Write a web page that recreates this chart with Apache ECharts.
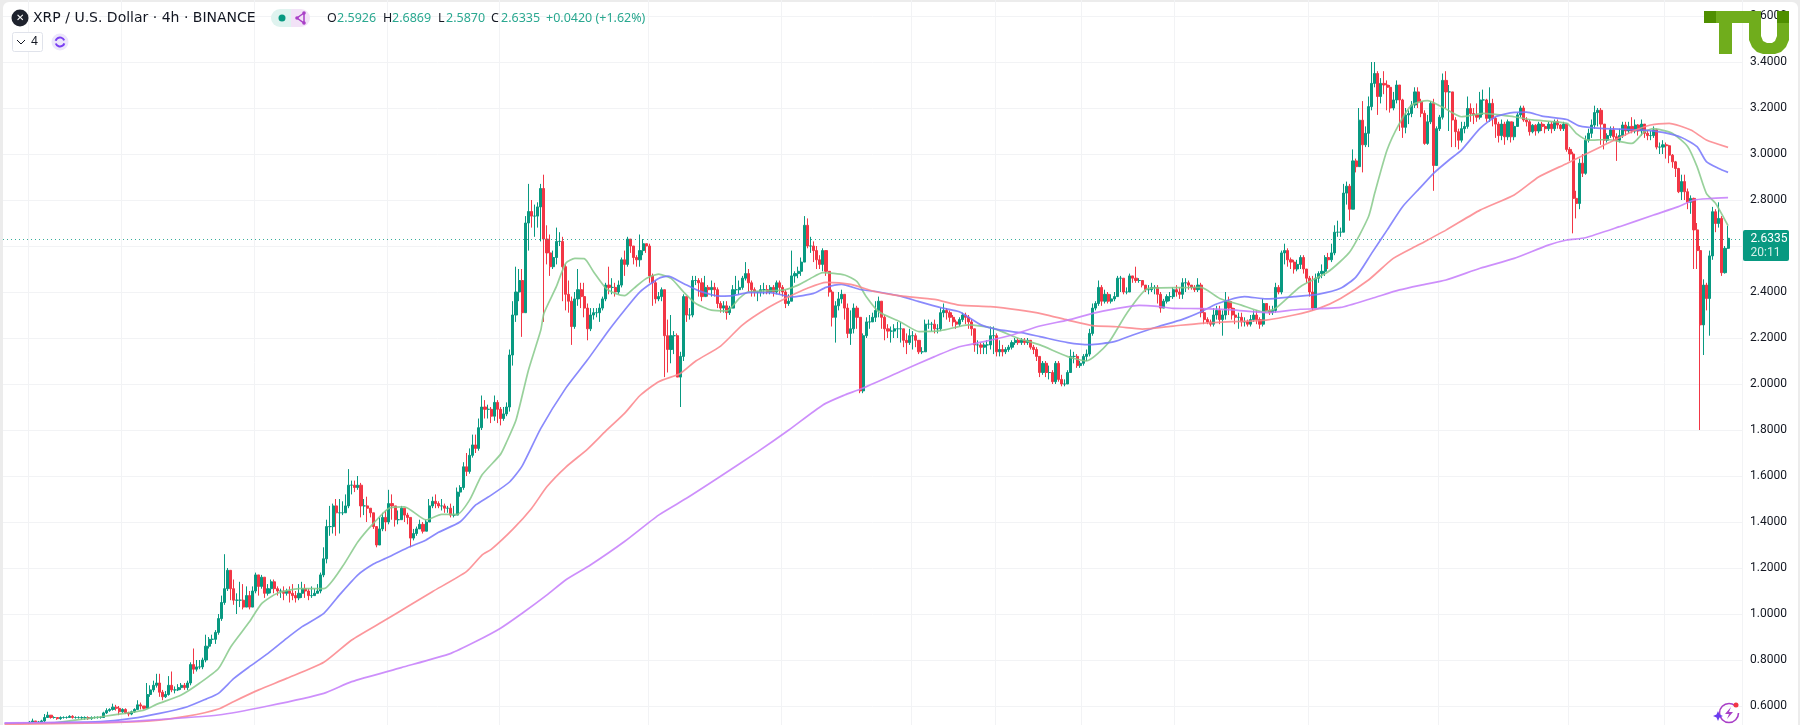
<!DOCTYPE html>
<html>
<head>
<meta charset="utf-8">
<title>XRP / U.S. Dollar</title>
<script src="https://cdn.jsdelivr.net/npm/echarts@6/dist/echarts.min.js"></script>
<style>
html, body { margin: 0; padding: 0; background: #ececec; overflow: hidden; }
#panel { position: absolute; left: 3px; top: 2px; width: 1795px; height: 723px; background: #fff; border-radius: 6px 6px 0 0; }
#chart { position: absolute; left: 0; top: 0; width: 1800px; height: 725px; }
</style>
</head>
<body>
<div id="panel"></div>
<div id="chart"></div>
<script>
// bars before the first candle, only the averages run there
var firstBar = 8;
var barCount = 561;
var monthBars = [8, 38, 81, 124, 160, 208, 251, 293, 320, 348, 378, 421, 463, 505, 536];

var firstOpen = 0.525;
var closes = [
	.53,.535,.53,.53,.535,.55,.56,.55,.55,.545,
	.55,.55,.55,.555,.55,.55,.55,.55,.55,.545,
	.55,.55,.55,.55,.57,.58,.585,.595,.59,.575,
	.585,.57,.565,.575,.585,.605,.60,.59,.65,.67,
	.69,.70,.66,.64,.65,.69,.67,.67,.68,.69,
	.68,.70,.78,.76,.77,.77,.80,.86,.89,.89,
	.92,.98,1.05,1.11,1.19,1.11,1.06,1.06,1.06,1.03,
	1.08,1.03,1.10,1.17,1.12,1.16,1.09,1.11,1.14,1.11,
	1.10,1.10,1.09,1.10,1.09,1.08,1.07,1.09,1.11,1.10,
	1.08,1.08,1.09,1.10,1.17,1.24,1.38,1.38,1.47,1.44,
	1.44,1.44,1.47,1.56,1.56,1.55,1.56,1.47,1.47,1.46,
	1.44,1.38,1.30,1.37,1.42,1.40,1.48,1.47,1.41,1.41,
	1.46,1.43,1.42,1.33,1.35,1.37,1.39,1.36,1.40,1.47,
	1.49,1.48,1.47,1.47,1.46,1.46,1.43,1.43,1.53,1.55,
	1.64,1.62,1.69,1.735,1.72,1.81,1.90,1.89,1.89,1.86,
	1.92,1.89,1.85,1.87,1.90,2.126,2.30,2.40,2.45,2.31,
	2.70,2.75,2.73,2.73,2.77,2.85,2.63,2.57,2.51,2.55,
	2.62,2.62,2.51,2.39,2.36,2.25,2.37,2.41,2.38,2.33,
	2.24,2.30,2.31,2.31,2.33,2.37,2.43,2.42,2.42,2.40,
	2.43,2.54,2.52,2.63,2.60,2.55,2.54,2.58,2.61,2.60,
	2.47,2.44,2.37,2.38,2.41,2.21,2.15,2.21,2.21,2.03,
	2.12,2.38,2.30,2.30,2.45,2.45,2.44,2.38,2.42,2.41,
	2.42,2.41,2.35,2.33,2.34,2.31,2.33,2.41,2.41,2.42,
	2.46,2.48,2.44,2.41,2.40,2.40,2.41,2.41,2.40,2.42,
	2.40,2.44,2.42,2.40,2.35,2.36,2.47,2.48,2.49,2.53,
	2.69,2.60,2.60,2.58,2.54,2.52,2.58,2.49,2.40,2.29,
	2.34,2.37,2.39,2.33,2.22,2.24,2.33,2.29,1.97,2.21,
	2.27,2.27,2.29,2.32,2.36,2.29,2.24,2.23,2.23,2.24,
	2.24,2.24,2.19,2.18,2.21,2.21,2.19,2.14,2.14,2.26,
	2.26,2.26,2.24,2.24,2.31,2.32,2.31,2.29,2.27,2.26,
	2.28,2.30,2.29,2.27,2.24,2.17,2.17,2.16,2.17,2.17,
	2.21,2.21,2.14,2.15,2.14,2.15,2.16,2.18,2.19,2.18,
	2.19,2.18,2.19,2.16,2.15,2.12,2.05,2.09,2.05,2.05,
	2.01,2.09,2.02,2.00,2.00,2.05,2.12,2.12,2.08,2.09,
	2.12,2.13,2.22,2.33,2.35,2.42,2.36,2.39,2.36,2.37,
	2.38,2.46,2.46,2.40,2.40,2.47,2.46,2.45,2.45,2.43,
	2.41,2.41,2.42,2.42,2.39,2.33,2.36,2.38,2.38,2.41,
	2.40,2.39,2.44,2.44,2.43,2.42,2.41,2.43,2.31,2.28,
	2.27,2.26,2.30,2.32,2.28,2.30,2.36,2.33,2.30,2.29,
	2.29,2.27,2.27,2.26,2.28,2.30,2.28,2.26,2.35,2.32,
	2.31,2.32,2.42,2.40,2.57,2.58,2.54,2.53,2.50,2.52,
	2.55,2.50,2.46,2.40,2.33,2.46,2.48,2.49,2.55,2.54,
	2.57,2.66,2.66,2.66,2.83,2.86,2.76,2.97,2.945,3.147,
	3.04,3.09,3.206,3.307,3.35,3.25,3.307,3.30,3.29,3.20,
	3.235,3.30,3.235,3.116,3.17,3.176,3.213,3.27,3.227,3.177,
	3.046,3.14,3.22,2.95,3.11,3.16,3.32,3.27,3.27,3.148,
	3.097,3.06,3.11,3.12,3.198,3.176,3.17,3.16,3.235,3.235,
	3.155,3.22,3.155,3.13,3.08,3.13,3.075,3.14,3.075,3.12,
	3.17,3.20,3.148,3.14,3.097,3.125,3.10,3.13,3.12,3.11,
	3.13,3.11,3.14,3.126,3.11,3.13,3.02,3.00,2.807,2.785,
	2.96,2.916,3.06,3.09,3.126,3.18,3.19,3.13,3.06,3.08,
	3.105,3.075,3.06,3.08,3.126,3.10,3.12,3.10,3.126,3.10,
	3.13,3.09,3.08,3.08,3.105,3.03,3.03,3.04,3.036,2.995,
	2.966,2.937,2.836,2.88,2.836,2.79,2.807,2.67,2.58,2.257,
	2.43,2.372,2.557,2.749,2.698,2.72,2.484,2.59,2.6335
];
var highs = [
	.535,.545,.535,.535,.54,.565,.575,.56,.555,.55,
	.555,.555,.555,.56,.56,.555,.555,.555,.555,.555,
	.555,.555,.555,.555,.575,.59,.59,.61,.605,.60,
	.59,.59,.575,.58,.59,.625,.615,.60,.70,.69,
	.71,.74,.74,.67,.665,.73,.75,.685,.695,.70,
	.70,.71,.79,.85,.80,.80,.81,.91,.90,.91,
	.93,1.0,1.08,1.26,1.20,1.19,1.15,1.09,1.14,1.13,
	1.12,1.10,1.12,1.18,1.17,1.17,1.16,1.13,1.15,1.15,
	1.12,1.11,1.12,1.11,1.12,1.13,1.10,1.13,1.14,1.13,
	1.11,1.12,1.11,1.13,1.18,1.29,1.41,1.47,1.48,1.50,
	1.50,1.49,1.52,1.63,1.58,1.58,1.60,1.57,1.50,1.51,
	1.46,1.44,1.38,1.42,1.44,1.45,1.54,1.52,1.47,1.45,
	1.47,1.46,1.44,1.42,1.37,1.38,1.41,1.40,1.41,1.50,
	1.51,1.52,1.49,1.50,1.48,1.47,1.48,1.47,1.55,1.56,
	1.66,1.70,1.72,1.78,1.78,1.85,1.95,1.93,1.91,1.90,
	1.95,1.93,1.90,1.90,1.92,2.15,2.36,2.51,2.50,2.50,
	2.73,2.87,2.80,2.78,2.79,2.87,2.91,2.69,2.65,2.58,
	2.68,2.66,2.64,2.52,2.45,2.38,2.40,2.50,2.44,2.44,
	2.35,2.33,2.33,2.33,2.35,2.38,2.44,2.51,2.46,2.44,
	2.45,2.55,2.58,2.64,2.63,2.60,2.56,2.65,2.63,2.61,
	2.61,2.48,2.45,2.40,2.42,2.41,2.28,2.30,2.23,2.22,
	2.14,2.39,2.38,2.33,2.47,2.47,2.46,2.46,2.47,2.43,
	2.45,2.44,2.42,2.36,2.36,2.36,2.34,2.43,2.47,2.45,
	2.47,2.53,2.50,2.45,2.42,2.40,2.43,2.44,2.43,2.43,
	2.43,2.45,2.45,2.43,2.41,2.39,2.58,2.49,2.51,2.55,
	2.73,2.72,2.64,2.62,2.60,2.56,2.59,2.58,2.49,2.41,
	2.36,2.40,2.41,2.39,2.35,2.32,2.35,2.34,2.29,2.22,
	2.29,2.30,2.31,2.36,2.38,2.36,2.30,2.26,2.25,2.26,
	2.27,2.27,2.24,2.22,2.24,2.23,2.22,2.19,2.16,2.28,
	2.28,2.27,2.28,2.26,2.33,2.35,2.33,2.32,2.30,2.28,
	2.29,2.31,2.31,2.30,2.28,2.24,2.19,2.18,2.18,2.19,
	2.25,2.25,2.22,2.19,2.17,2.16,2.17,2.19,2.20,2.20,
	2.20,2.20,2.20,2.19,2.17,2.16,2.12,2.10,2.10,2.08,
	2.06,2.10,2.10,2.04,2.02,2.06,2.15,2.14,2.13,2.10,
	2.13,2.15,2.24,2.35,2.36,2.45,2.43,2.41,2.40,2.39,
	2.40,2.47,2.47,2.46,2.42,2.48,2.47,2.51,2.46,2.45,
	2.43,2.43,2.44,2.43,2.43,2.40,2.37,2.39,2.40,2.42,
	2.43,2.42,2.46,2.46,2.45,2.43,2.43,2.46,2.44,2.33,
	2.29,2.28,2.33,2.34,2.34,2.32,2.40,2.38,2.36,2.33,
	2.31,2.31,2.29,2.28,2.30,2.32,2.32,2.29,2.37,2.35,
	2.34,2.34,2.44,2.43,2.58,2.61,2.59,2.55,2.54,2.54,
	2.56,2.56,2.50,2.47,2.47,2.48,2.49,2.52,2.56,2.57,
	2.61,2.69,2.71,2.68,2.87,2.88,2.87,3.02,2.98,3.20,
	3.23,3.12,3.25,3.40,3.40,3.36,3.33,3.36,3.32,3.30,
	3.27,3.32,3.30,3.24,3.20,3.19,3.23,3.29,3.29,3.24,
	3.19,3.17,3.23,3.24,3.12,3.17,3.35,3.36,3.30,3.27,
	3.16,3.11,3.14,3.14,3.25,3.22,3.20,3.22,3.27,3.28,
	3.24,3.29,3.24,3.16,3.14,3.15,3.14,3.15,3.14,3.14,
	3.18,3.21,3.21,3.16,3.15,3.13,3.13,3.14,3.14,3.13,
	3.14,3.14,3.15,3.15,3.13,3.14,3.13,3.03,3.01,2.84,
	2.98,3.00,3.08,3.11,3.15,3.21,3.20,3.20,3.13,3.09,
	3.12,3.12,3.09,3.11,3.14,3.14,3.14,3.16,3.15,3.13,
	3.15,3.13,3.10,3.10,3.12,3.11,3.05,3.06,3.05,3.04,
	3.0,2.97,2.94,2.91,2.91,2.85,2.82,2.81,2.70,2.60,
	2.455,2.44,2.58,2.77,2.76,2.79,2.73,2.60,2.6869
];
var lows = [
	.525,.525,.525,.525,.53,.53,.55,.545,.545,.54,
	.54,.545,.545,.55,.545,.545,.545,.54,.54,.54,
	.54,.545,.545,.545,.55,.565,.575,.58,.58,.56,
	.57,.565,.555,.56,.57,.585,.585,.585,.59,.64,
	.66,.68,.64,.625,.635,.645,.66,.655,.665,.67,
	.67,.67,.69,.74,.75,.76,.76,.79,.85,.87,
	.87,.91,.97,1.04,1.10,1.06,1.04,1.00,1.03,1.02,
	1.03,1.02,1.03,1.09,1.08,1.11,1.07,1.08,1.09,1.09,
	1.08,1.07,1.06,1.08,1.05,1.06,1.05,1.06,1.07,1.07,
	1.06,1.07,1.08,1.09,1.09,1.16,1.22,1.34,1.35,1.34,
	1.35,1.43,1.45,1.46,1.52,1.53,1.54,1.42,1.43,1.40,
	1.42,1.37,1.29,1.30,1.36,1.36,1.39,1.41,1.38,1.39,
	1.41,1.40,1.39,1.29,1.32,1.34,1.37,1.35,1.36,1.40,
	1.46,1.46,1.46,1.45,1.44,1.44,1.42,1.42,1.43,1.51,
	1.54,1.60,1.61,1.68,1.70,1.71,1.80,1.85,1.85,1.83,
	1.84,1.83,1.82,1.84,1.86,1.88,2.08,2.27,2.36,2.205,
	2.31,2.58,2.68,2.64,2.68,2.62,2.27,2.52,2.47,2.50,
	2.52,2.60,2.36,2.32,2.31,2.17,2.24,2.34,2.33,2.29,
	2.19,2.23,2.28,2.29,2.27,2.32,2.36,2.39,2.39,2.38,
	2.39,2.42,2.47,2.51,2.57,2.52,2.51,2.51,2.56,2.57,
	2.44,2.34,2.35,2.36,2.36,2.03,2.05,2.09,2.13,2.03,
	1.90,2.10,2.27,2.28,2.29,2.43,2.38,2.36,2.38,2.38,
	2.38,2.38,2.33,2.31,2.31,2.28,2.30,2.33,2.39,2.39,
	2.41,2.45,2.40,2.38,2.38,2.36,2.38,2.39,2.39,2.39,
	2.38,2.39,2.39,2.38,2.33,2.34,2.36,2.44,2.46,2.47,
	2.53,2.59,2.57,2.53,2.50,2.50,2.49,2.47,2.38,2.25,
	2.18,2.32,2.35,2.28,2.20,2.17,2.22,2.24,1.96,1.96,
	2.20,2.24,2.27,2.27,2.29,2.24,2.19,2.20,2.18,2.20,
	2.20,2.18,2.16,2.13,2.17,2.15,2.16,2.13,2.13,2.14,
	2.24,2.23,2.22,2.22,2.23,2.29,2.28,2.27,2.25,2.24,
	2.25,2.27,2.26,2.24,2.21,2.14,2.13,2.13,2.13,2.13,
	2.15,2.13,2.12,2.12,2.12,2.13,2.14,2.15,2.17,2.17,
	2.17,2.17,2.17,2.15,2.13,2.10,2.03,2.04,2.03,2.02,
	2.00,2.00,2.01,1.99,1.99,2.00,2.05,2.09,2.07,2.07,
	2.08,2.10,2.12,2.21,2.32,2.34,2.34,2.35,2.35,2.35,
	2.36,2.38,2.40,2.39,2.39,2.40,2.44,2.44,2.44,2.42,
	2.40,2.39,2.40,2.39,2.35,2.31,2.33,2.35,2.36,2.37,
	2.38,2.37,2.37,2.40,2.41,2.41,2.40,2.40,2.29,2.26,
	2.26,2.25,2.25,2.28,2.26,2.21,2.28,2.30,2.28,2.26,
	2.24,2.25,2.25,2.25,2.25,2.27,2.26,2.24,2.25,2.31,
	2.30,2.30,2.31,2.39,2.39,2.52,2.51,2.50,2.48,2.49,
	2.50,2.48,2.44,2.38,2.32,2.33,2.44,2.46,2.47,2.50,
	2.53,2.56,2.64,2.64,2.66,2.78,2.71,2.76,2.92,2.945,
	2.92,3.03,3.03,3.19,3.29,3.17,3.22,3.26,3.19,3.18,
	3.19,3.22,3.10,3.07,3.09,3.13,3.16,3.20,3.20,3.16,
	3.04,3.04,3.13,2.84,2.95,3.10,3.15,3.20,3.10,3.03,
	3.03,3.02,3.05,3.09,3.11,3.14,3.13,3.14,3.15,3.17,
	3.14,3.14,3.12,3.07,3.05,3.06,3.04,3.06,3.05,3.06,
	3.12,3.16,3.14,3.12,3.08,3.09,3.08,3.09,3.10,3.09,
	3.10,3.09,3.10,3.11,3.10,3.10,3.01,2.97,2.655,2.72,
	2.76,2.90,2.91,3.05,3.07,3.11,3.12,3.04,3.02,3.05,
	3.07,3.06,2.97,3.05,3.07,3.08,3.09,3.09,3.09,3.08,
	3.08,3.07,3.06,3.06,3.07,3.02,3.00,3.00,2.98,2.96,
	2.94,2.90,2.83,2.80,2.80,2.76,2.74,2.50,2.50,1.80,
	2.126,2.32,2.21,2.54,2.66,2.68,2.47,2.48,2.587
];

// moving averages as [bar, price] read at the bends of each line
var maGreen = [[15,.525],[31,.553],[45,.582],[49,.607],[57,.648],[63,.70],[69,.763],[73,.858],[79,.966],[83,1.046],[88,1.09],[95,1.11],[103,1.11],[109,1.206],[114,1.314],[119,1.394],[124,1.46],[129,1.466],[136,1.409],[141,1.433],[146,1.433],[150,1.495],[154,1.604],[160,1.694],[162,1.749],[165,1.843],[169,2.06],[173,2.235],[174,2.307],[178,2.423],[181,2.524],[184,2.546],[187,2.545],[190,2.488],[194,2.416],[197,2.394],[200,2.384],[203,2.416],[207,2.459],[211,2.478],[215,2.459],[219,2.401],[223,2.35],[228,2.321],[233,2.318],[237,2.372],[240,2.401],[251,2.408],[256,2.43],[260,2.459],[264,2.484],[271,2.474],[275,2.445],[278,2.379],[282,2.314],[289,2.27],[295,2.228],[302,2.232],[311,2.257],[319,2.242],[327,2.199],[334,2.17],[343,2.119],[349,2.10],[356,2.177],[362,2.307],[369,2.416],[380,2.419],[386,2.42],[392,2.372],[399,2.343],[406,2.314],[410,2.329],[418,2.423],[427,2.488],[434,2.575],[440,2.727],[442,2.829],[446,3.017],[450,3.133],[454,3.213],[459,3.232],[464,3.203],[470,3.162],[477,3.177],[487,3.162],[493,3.148],[504,3.133],[507,3.09],[511,3.06],[517,3.063],[525,3.046],[529,3.097],[532,3.11],[538,3.09],[543,3.032],[546,2.945],[549,2.829],[552,2.785],[556,2.688]];
var maBlue = [[0,.524],[31,.532],[41,.546],[50,.568],[59,.597],[65,.63],[69,.655],[74,.72],[79,.771],[85,.829],[91,.894],[96,.945],[103,1.003],[108,1.082],[114,1.17],[119,1.217],[123,1.242],[130,1.288],[136,1.322],[140,1.355],[147,1.401],[152,1.474],[157,1.517],[163,1.575],[167,1.644],[173,1.807],[181,1.981],[188,2.104],[195,2.235],[200,2.321],[205,2.401],[211,2.459],[214,2.469],[219,2.437],[224,2.405],[231,2.382],[235,2.384],[240,2.397],[247,2.397],[254,2.379],[261,2.394],[265,2.42],[270,2.433],[276,2.411],[282,2.40],[289,2.382],[295,2.358],[302,2.332],[308,2.314],[315,2.257],[321,2.235],[328,2.223],[334,2.206],[343,2.18],[350,2.171],[358,2.184],[364,2.213],[372,2.249],[380,2.281],[386,2.314],[391,2.348],[400,2.38],[407,2.37],[416,2.38],[424,2.391],[431,2.416],[436,2.466],[441,2.568],[446,2.669],[451,2.771],[457,2.858],[461,2.916],[466,2.974],[470,3.017],[476,3.111],[481,3.162],[487,3.181],[491,3.182],[496,3.165],[504,3.15],[508,3.122],[515,3.111],[523,3.107],[529,3.104],[535,3.094],[541,3.072],[546,3.032],[549,2.967],[553,2.937],[556,2.92]];
var maRed = [[0,.52],[31,.527],[47,.535],[59,.556],[69,.587],[74,.62],[82,.67],[91,.72],[103,.79],[112,.887],[122,.967],[131,1.04],[138,1.097],[149,1.184],[154,1.256],[157,1.281],[164,1.369],[170,1.459],[175,1.554],[181,1.638],[188,1.716],[194,1.796],[200,1.872],[205,1.95],[211,2.01],[218,2.046],[223,2.10],[231,2.165],[238,2.256],[246,2.329],[253,2.379],[259,2.416],[265,2.442],[273,2.433],[281,2.401],[289,2.383],[300,2.368],[308,2.343],[318,2.336],[327,2.322],[335,2.304],[343,2.278],[351,2.254],[359,2.249],[367,2.239],[377,2.252],[386,2.264],[396,2.271],[407,2.278],[416,2.30],[424,2.329],[431,2.372],[440,2.452],[448,2.546],[456,2.604],[465,2.669],[476,2.756],[487,2.822],[495,2.901],[504,2.959],[515,3.032],[525,3.097],[531,3.126],[537,3.133],[544,3.104],[549,3.061],[556,3.029]];
var maPurple = [[0,.527],[31,.529],[47,.539],[69,.561],[85,.60],[103,.655],[112,.706],[128,.767],[144,.829],[152,.88],[160,.938],[167,1.003],[175,1.083],[181,1.148],[189,1.213],[200,1.315],[211,1.43],[220,1.503],[230,1.59],[243,1.706],[253,1.80],[264,1.909],[271,1.952],[276,1.977],[289,2.054],[300,2.119],[308,2.162],[316,2.184],[325,2.213],[334,2.252],[343,2.278],[351,2.307],[359,2.329],[366,2.342],[371,2.339],[377,2.329],[386,2.328],[396,2.322],[407,2.31],[418,2.325],[431,2.333],[441,2.372],[450,2.409],[457,2.43],[465,2.452],[476,2.503],[487,2.546],[498,2.604],[504,2.626],[510,2.636],[521,2.684],[532,2.735],[540,2.771],[545,2.80],[550,2.806],[556,2.81]];

var upColor = '#089981';
var downColor = '#f23645';
var headerFont = '"Noto Sans", "Open Sans", sans-serif';
var lastClose = closes[closes.length - 1];

var categories = [];
for (var b = 0; b < barCount; b++) categories.push(String(b));

// each open sits on the previous close, as it does on the picture
var candles = [];
for (var i = 0; i < firstBar; i++) candles.push(['-', '-', '-', '-']);
closes.forEach(function (c, i) {
	candles.push([i === 0 ? firstOpen : closes[i - 1], c, lows[i], highs[i]]);
});

function maSeries(name, points, color) {
	return {
		name: name,
		type: 'line',
		data: points,
		showSymbol: false,
		smooth: 0.2,
		z: 5,
		silent: true,
		lineStyle: { color: color, width: 1.7, opacity: 0.85 }
	};
}

function headText(x, y, text, color, size, family) {
	return {
		type: 'text', x: x, y: y, z: 20,
		style: { text: text, fill: color, font: (size || 12.5) + 'px ' + (family || headerFont), textVerticalAlign: 'middle' }
	};
}

var chart = echarts.init(document.getElementById('chart'), null, { renderer: 'canvas' });

chart.setOption({
	animation: false,
	backgroundColor: 'transparent',
	grid: { left: 3, width: 1739, top: -30, bottom: -27, outerBoundsMode: 'none' },
	xAxis: {
		type: 'category',
		data: categories,
		axisLine: { show: false },
		axisTick: { show: false },
		axisLabel: { show: false },
		splitLine: {
			show: true,
			interval: function (index) { return monthBars.indexOf(index) >= 0; },
			lineStyle: { color: '#f2f3f5', width: 1 }
		}
	},
	yAxis: {
		type: 'value',
		position: 'right',
		min: 0.4,
		max: 3.8,
		interval: 0.2,
		axisLine: { show: false },
		axisTick: { show: false },
		axisLabel: {
			margin: 8,
			color: '#131722',
			fontSize: 12,
			fontFamily: 'Roboto, sans-serif',
			formatter: function (v) { return v.toFixed(4); }
		},
		splitLine: { lineStyle: { color: '#f2f3f5', width: 1 } }
	},
	series: [
		{
			name: 'XRP',
			type: 'candlestick',
			data: candles,
			barWidth: 2.6,
			itemStyle: { color: upColor, color0: downColor, borderColor: upColor, borderColor0: downColor, borderWidth: 1 },
			markLine: {
				silent: true,
				symbol: 'none',
				label: { show: false },
				lineStyle: { color: upColor, type: [1, 3], width: 1, opacity: 0.8 },
				data: [{ yAxis: lastClose }]
			}
		},
		maSeries('MA 20', maGreen, '#86c98a'),
		maSeries('MA 50', maBlue, '#7676fb'),
		maSeries('MA 100', maRed, '#fb8489'),
		maSeries('MA 200', maPurple, '#c47bfa')
	],
	graphic: [
		// header
		{ type: 'circle', z: 20, shape: { cx: 20, cy: 18, r: 8.5 }, style: { fill: '#1e222d' } },
		headText(16, 18, '✕', '#fff', 10),
		headText(33, 18, 'XRP / U.S. Dollar · 4h · BINANCE', '#131722', 14, '"DejaVu Sans", sans-serif'),
		{ type: 'rect', z: 20, shape: { x: 271, y: 9, width: 20, height: 18, r: [9, 0, 0, 9] }, style: { fill: '#dff3ef' } },
		{ type: 'rect', z: 20, shape: { x: 291, y: 9, width: 19, height: 18, r: [0, 9, 9, 0] }, style: { fill: '#f2e2f7' } },
		{ type: 'circle', z: 21, shape: { cx: 282, cy: 18, r: 3.5 }, style: { fill: upColor } },
		{ type: 'polyline', z: 21, shape: { points: [[304, 13], [297, 18], [304, 23], [304, 13]] }, style: { stroke: '#a93fc7', fill: 'none', lineWidth: 1.5 } },
		{ type: 'circle', z: 21, shape: { cx: 304, cy: 13, r: 1.8 }, style: { fill: '#a93fc7' } },
		{ type: 'circle', z: 21, shape: { cx: 297, cy: 18, r: 1.8 }, style: { fill: '#a93fc7' } },
		{ type: 'circle', z: 21, shape: { cx: 304, cy: 23, r: 1.8 }, style: { fill: '#a93fc7' } },
		headText(327, 18, 'O', '#131722'),
		headText(337, 18, '2.5926', '#2aa890'),
		headText(383, 18, 'H', '#131722'),
		headText(392, 18, '2.6869', '#2aa890'),
		headText(438, 18, 'L', '#131722'),
		headText(446, 18, '2.5870', '#2aa890'),
		headText(491, 18, 'C', '#131722'),
		headText(501, 18, '2.6335', '#2aa890'),
		headText(546, 18, '+0.0420 (+1.62%)', '#2aa890'),
		{ type: 'rect', z: 20, shape: { x: 12.5, y: 32.5, width: 30, height: 19, r: 2 }, style: { fill: '#fff', stroke: '#e0e3eb' } },
		{ type: 'polyline', z: 21, shape: { points: [[17, 40], [21, 44], [25, 40]] }, style: { stroke: '#131722', fill: 'none', lineWidth: 1 } },
		headText(31, 42, '4', '#131722', 12),
		{ type: 'circle', z: 20, shape: { cx: 60, cy: 42, r: 8.5 }, style: { fill: '#ece6fb' } },
		{ type: 'arc', z: 21, shape: { cx: 60, cy: 42, r: 4.5, startAngle: 0.3, endAngle: 2.8 }, style: { stroke: '#7a3ff2', fill: 'none', lineWidth: 2 } },
		{ type: 'arc', z: 21, shape: { cx: 60, cy: 42, r: 4.5, startAngle: 3.4, endAngle: 5.9 }, style: { stroke: '#7a3ff2', fill: 'none', lineWidth: 2 } },
		// last price tag
		{ type: 'rect', z: 20, shape: { x: 1743, y: 230, width: 46, height: 31, r: 2 }, style: { fill: upColor } },
		headText(1750.5, 238.5, '2.6335', '#fff', 12, 'Roboto, sans-serif'),
		headText(1750.5, 252.5, '20:11', '#d5efe9', 12, 'Roboto, sans-serif'),
		// logo
		{ type: 'rect', z: 30, shape: { x: 1704, y: 11, width: 12, height: 12 }, style: { fill: '#4f8f00' } },
		{ type: 'rect', z: 30, shape: { x: 1716, y: 11, width: 34, height: 12 }, style: { fill: '#70ad1c' } },
		{ type: 'rect', z: 30, shape: { x: 1719, y: 23, width: 13, height: 31 }, style: { fill: '#70ad1c' } },
		{ type: 'polygon', z: 30, shape: { points: [[1749, 11], [1761, 11], [1761, 36], [1763, 41], [1767, 43], [1772, 43], [1775, 41], [1777, 36], [1777, 23], [1789, 23], [1789, 40], [1786, 47], [1781, 52], [1775, 54], [1763, 54], [1757, 52], [1752, 47], [1749, 40]] }, style: { fill: '#70ad1c' } },
		{ type: 'rect', z: 30, shape: { x: 1777, y: 11, width: 12, height: 12 }, style: { fill: '#4f8f00' } },
		// bolt badge, bottom right
		{ type: 'arc', z: 20, shape: { cx: 1729, cy: 713, r: 9.5, startAngle: 0, endAngle: 5.4 }, style: { stroke: '#a93fc7', fill: 'none', lineWidth: 1.6 } },
		{ type: 'polygon', z: 21, shape: { points: [[1731, 707], [1725, 714], [1729, 714], [1727, 719], [1733, 712], [1729, 712]] }, style: { fill: '#a93fc7' } },
		{ type: 'circle', z: 21, shape: { cx: 1736, cy: 705, r: 2.5 }, style: { fill: '#f23645' } },
		{ type: 'polygon', z: 21, shape: { points: [[1718, 711], [1719.5, 714.5], [1723, 716], [1719.5, 717.5], [1718, 721], [1716.5, 717.5], [1713, 716], [1716.5, 714.5]] }, style: { fill: '#6a3df0' } }
	]
});
</script>
</body>
</html>
